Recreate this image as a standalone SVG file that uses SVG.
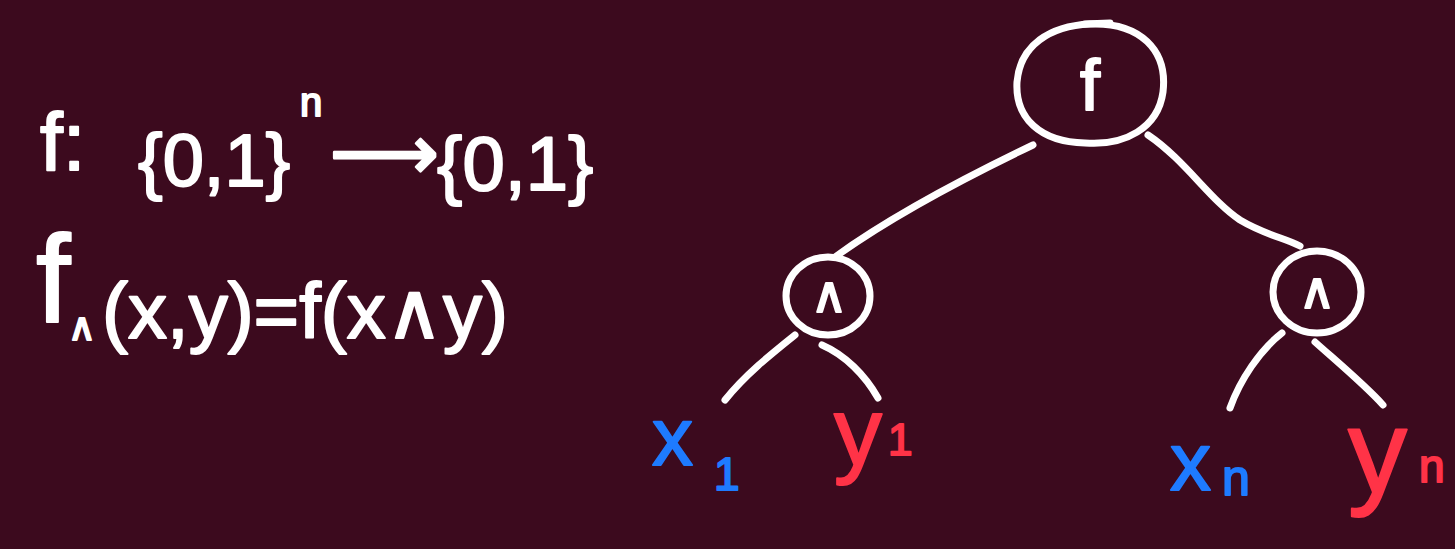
<svg xmlns="http://www.w3.org/2000/svg" width="1455" height="549" viewBox="0 0 1455 549">
<style>
.bg{fill:#3c0a1e}
.ln{fill:none;stroke:#fff;stroke-width:7;stroke-linecap:round;stroke-linejoin:round}
.t{font-family:"Liberation Sans","DejaVu Sans",sans-serif;fill:#fff;stroke:#fff;stroke-width:2;stroke-linejoin:round}
.arr{font-family:"DejaVu Sans",sans-serif;fill:#fff;stroke:#fff;stroke-width:2.5;stroke-linejoin:round}
.blue{fill:#1e7bff;stroke:#1e7bff}
.red{fill:#ff3347;stroke:#ff3347}
</style>
<rect class="bg" x="0" y="0" width="1455" height="549"/>
<g id="formula1">
<text class="t" x="40" y="170" font-size="82">f:</text>
<text class="t" x="138" y="186" font-size="74">{0,1}</text>
<text class="t" x="300" y="116" font-size="40">n</text>
<text class="arr" x="330" y="179" font-size="76">⟶</text>
<text class="t" x="437" y="190" font-size="76">{0,1}</text>
</g>
<g id="formula2">
<text class="t" x="36" y="322" font-size="124">f</text>
<text class="t" x="68" y="340" font-size="38">∧</text>
<text class="t" x="102" y="338" font-size="78">(x,y)=f(x∧y)</text>
</g>
<g id="connectors">
<path class="ln" d="M1033,145 C985,168 900,210 835,257"/>
<path class="ln" d="M1148,135 C1185,160 1210,200 1240,220 C1265,235 1285,238 1300,246"/>
<path class="ln" d="M795,335 C770,355 745,375 725,400"/>
<path class="ln" d="M822,345 C845,355 865,375 878,398"/>
<path class="ln" d="M1282,333 C1260,350 1240,380 1230,408"/>
<path class="ln" d="M1315,342 C1335,360 1365,385 1383,405"/>
</g>
<g id="node-f">
<path class="ln" d="M1090,24 C1140,22 1168,50 1163,92 C1158,128 1125,146 1085,143 C1040,142 1015,118 1017,82 C1020,45 1050,26 1090,24 Z"/>
<path class="ln" d="M1085,24 L1110,23"/>
<text class="t" x="1090" y="110" font-size="72" text-anchor="middle">f</text>
</g>
<g id="node-and-left">
<ellipse class="ln" cx="828" cy="296" rx="42" ry="39"/>
<text class="t" x="829" y="312" font-size="50" text-anchor="middle">∧</text>
</g>
<g id="node-and-right">
<ellipse class="ln" cx="1317" cy="292" rx="44" ry="41"/>
<text class="t" x="1317" y="308" font-size="50" text-anchor="middle">∧</text>
</g>
<g id="leaf-x1">
<text class="t blue" x="652" y="465" font-size="82">x</text>
<text class="t blue" x="714" y="490" font-size="46">1</text>
</g>
<g id="leaf-y1">
<text class="t red" x="834" y="465" font-size="96">y</text>
<text class="t red" x="888" y="455" font-size="44">1</text>
</g>
<g id="leaf-xn">
<text class="t blue" x="1170" y="490" font-size="82">x</text>
<text class="t blue" x="1222" y="495" font-size="50">n</text>
</g>
<g id="leaf-yn">
<text class="t red" x="1348" y="492" font-size="118">y</text>
<text class="t red" x="1419" y="482" font-size="46">n</text>
</g>
</svg>
